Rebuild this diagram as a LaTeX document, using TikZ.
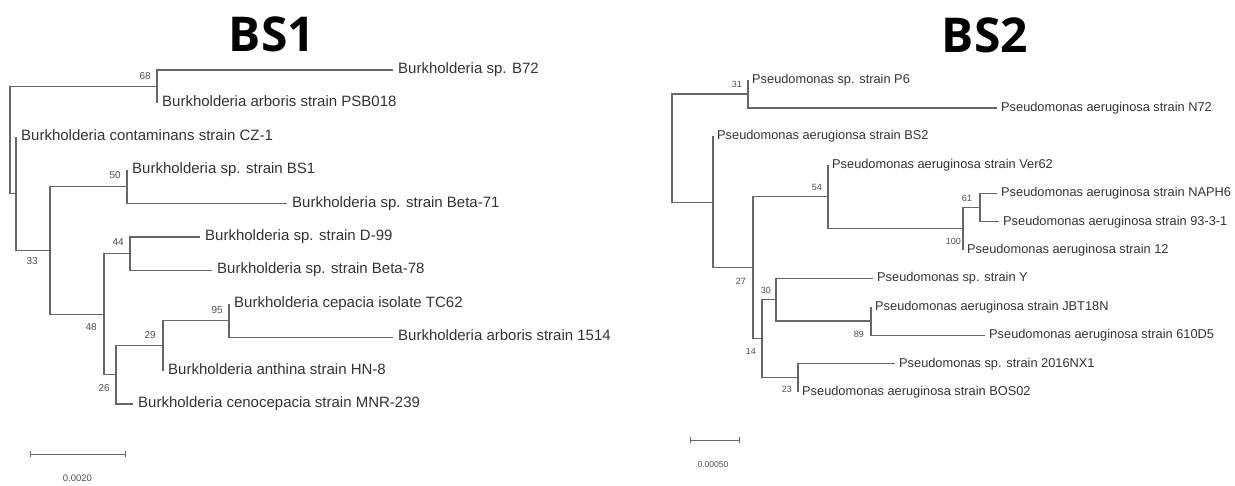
\documentclass[tikz,border=0pt]{standalone}
\usepackage{fontspec}
\setmainfont{Liberation Sans}
\newfontfamily\titlefont{Open Sans}
\usetikzlibrary{positioning}

\begin{document}
\begin{tikzpicture}[
    x=1pt, y=-1pt,
    br/.style={draw=black!60, line width=1.1pt},
    leafa/.style={anchor=west, inner xsep=5pt, inner ysep=0pt, text height=0.72em, text depth=0pt, text=black!80, font=\fontsize{15}{16}\selectfont},
    leafb/.style={leafa, inner xsep=4pt, font=\fontsize{12.8}{14}\selectfont},
    boota/.style={inner sep=1pt, text=black!70, font=\fontsize{10}{10}\selectfont},
    bootb/.style={boota, font=\fontsize{9}{9}\selectfont},
    ttl/.style={text=black, font=\titlefont\bfseries\fontsize{48}{48}\selectfont},
    sclab/.style={text=black!70, font=\fontsize{9.5}{10}\selectfont}
]
\useasboundingbox (0,0) rectangle (1235,486);

% Titles
\node[ttl] (t1) at (272,34) {BS1};
\node[ttl] (t2) at (985,35) {BS2};

% BS1 internal nodes
\coordinate (r1)  at (10,140.2);
\coordinate (n68) at (157,86.7);
\coordinate (nA)  at (16,193.7);
\coordinate (n33) at (50,250.6);
\coordinate (n50) at (127,186.9);
\coordinate (n48) at (104,314.2);
\coordinate (n44) at (130,253.7);
\coordinate (n26) at (116,374.8);
\coordinate (n29) at (163,345.5);
\coordinate (n95) at (229,320.5);

% BS1 leaves
\node[leafa] (b72)   at (393,70)    {Burkholderia sp. B72};
\node[leafa] (psb)   at (157,103.4) {Burkholderia arboris strain PSB018};
\node[leafa] (cz1)   at (16,136.8)  {Burkholderia contaminans strain CZ-1};
\node[leafa] (bs1)   at (127,170.2) {Burkholderia sp. strain BS1};
\node[leafa] (bt71)  at (287,203.6) {Burkholderia sp. strain Beta-71};
\node[leafa] (d99)   at (200,237)   {Burkholderia sp. strain D-99};
\node[leafa] (bt78)  at (212,270.4) {Burkholderia sp. strain Beta-78};
\node[leafa] (tc62)  at (229,303.8) {Burkholderia cepacia isolate TC62};
\node[leafa] (s1514) at (393,337.2) {Burkholderia arboris strain 1514};
\node[leafa] (hn8)   at (163,370.6) {Burkholderia anthina strain HN-8};
\node[leafa] (mnr)   at (133,404)   {Burkholderia cenocepacia strain MNR-239};

% BS1 branches
\draw[br] (r1) |- (n68) (r1) |- (nA);
\draw[br] (n68) |- (b72.west) (n68) |- (psb.west);
\draw[br] (nA) |- (cz1.west) (nA) |- (n33);
\draw[br] (n33) |- (n50) (n33) |- (n48);
\draw[br] (n50) |- (bs1.west) (n50) |- (bt71.west);
\draw[br] (n48) |- (n44) (n48) |- (n26);
\draw[br] (n44) |- (d99.west) (n44) |- (bt78.west);
\draw[br] (n26) |- (n29) (n26) |- (mnr.west);
\draw[br] (n29) |- (n95) (n29) |- (hn8.west);
\draw[br] (n95) |- (tc62.west) (n95) |- (s1514.west);

% BS1 bootstrap values
\node[boota, above left=6pt and 5pt of n68] (v68) {68};
\node[boota, above left=7pt and 5pt of n50] (v50) {50};
\node[boota, above left=7pt and 5pt of n44] (v44) {44};
\node[boota, above left=6pt and 5pt of n95] (v95) {95};
\node[boota, above left=6pt and 6pt of n29] (v29) {29};
\node[boota, below left=6pt and 11pt of n33] (v33) {33};
\node[boota, below left=8pt and 6pt of n48] (v48) {48};
\node[boota, below left=9pt and 5pt of n26] (v26) {26};

% BS1 scale bar
\coordinate (s1a) at (30,454);
\coordinate (s1b) at (125,454);
\draw[br, line width=0.9pt] (s1a) -- (s1b);
\draw[br, line width=0.9pt] ([yshift=3pt]s1a) -- ([yshift=-3pt]s1a) ([yshift=3pt]s1b) -- ([yshift=-3pt]s1b);
\node[sclab] (l1) at (77.5,478) {0.0020};

% BS2 internal nodes
\coordinate (r2)   at (672,148);
\coordinate (n31)  at (748,94);
\coordinate (nB)   at (713,202.1);
\coordinate (n27)  at (753,267.7);
\coordinate (n54)  at (828,196.7);
\coordinate (n100) at (963,228.7);
\coordinate (n61)  at (980,207.4);
\coordinate (n14)  at (762,338.7);
\coordinate (n30)  at (776,299.7);
\coordinate (n89)  at (871,321);
\coordinate (n23)  at (798,377.8);

% BS2 leaves
\node[leafb] (p6)    at (748,80)    {Pseudomonas sp. strain P6};
\node[leafb] (n72)   at (997,108)   {Pseudomonas aeruginosa strain N72};
\node[leafb] (bs2)   at (713,136.4) {Pseudomonas aerugionsa strain BS2};
\node[leafb] (ver62) at (828,164.8) {Pseudomonas aeruginosa strain Ver62};
\node[leafb] (naph6) at (997,193.2) {Pseudomonas aeruginosa strain NAPH6};
\node[leafb] (s931)  at (999,221.6) {Pseudomonas aeruginosa strain 93-3-1};
\node[leafb] (s12)   at (963,250)   {Pseudomonas aeruginosa strain 12};
\node[leafb] (sy)    at (873,278.4) {Pseudomonas sp. strain Y};
\node[leafb] (jbt)   at (871,306.8) {Pseudomonas aeruginosa strain JBT18N};
\node[leafb] (s610)  at (985,335.2) {Pseudomonas aeruginosa strain 610D5};
\node[leafb] (nx1)   at (895,363.6) {Pseudomonas sp. strain 2016NX1};
\node[leafb] (bos)   at (798,392)   {Pseudomonas aeruginosa strain BOS02};

% BS2 branches
\draw[br] (r2) |- (n31) (r2) |- (nB);
\draw[br] (n31) |- (p6.west) (n31) |- (n72.west);
\draw[br] (nB) |- (bs2.west) (nB) |- (n27);
\draw[br] (n27) |- (n54) (n27) |- (n14);
\draw[br] (n54) |- (ver62.west) (n54) |- (n100);
\draw[br] (n100) |- (n61) (n100) |- (s12.west);
\draw[br] (n61) |- (naph6.west) (n61) |- (s931.west);
\draw[br] (n14) |- (n30) (n14) |- (n23);
\draw[br] (n30) |- (sy.west) (n30) |- (n89);
\draw[br] (n89) |- (jbt.west) (n89) |- (s610.west);
\draw[br] (n23) |- (nx1.west) (n23) |- (bos.west);

% BS2 bootstrap values
\node[bootb, above left=5pt and 5pt of n31] (v31) {31};
\node[bootb, above left=5pt and 5pt of n54] (v54) {54};
\node[bootb, above left=5pt and 7pt of n61] (v61) {61};
\node[bootb, above left=5pt and 4pt of n30] (v30) {30};
\node[bootb, below left=8pt and 1pt of n100] (v100) {100};
\node[bootb, below left=9pt and 6pt of n27] (v27) {27};
\node[bootb, below left=8pt and 5pt of n14] (v14) {14};
\node[bootb, below left=9pt and 6pt of n89] (v89) {89};
\node[bootb, below left=7pt and 5pt of n23] (v23) {23};

% BS2 scale bar
\coordinate (s2a) at (690,440);
\coordinate (s2b) at (739,440);
\draw[br, line width=0.9pt] (s2a) -- (s2b);
\draw[br, line width=0.9pt] ([yshift=3pt]s2a) -- ([yshift=-3pt]s2a) ([yshift=3pt]s2b) -- ([yshift=-3pt]s2b);
\node[sclab, font=\fontsize{8.5}{9}\selectfont] (l2) at (713,465) {0.00050};

\end{tikzpicture}
\end{document}
